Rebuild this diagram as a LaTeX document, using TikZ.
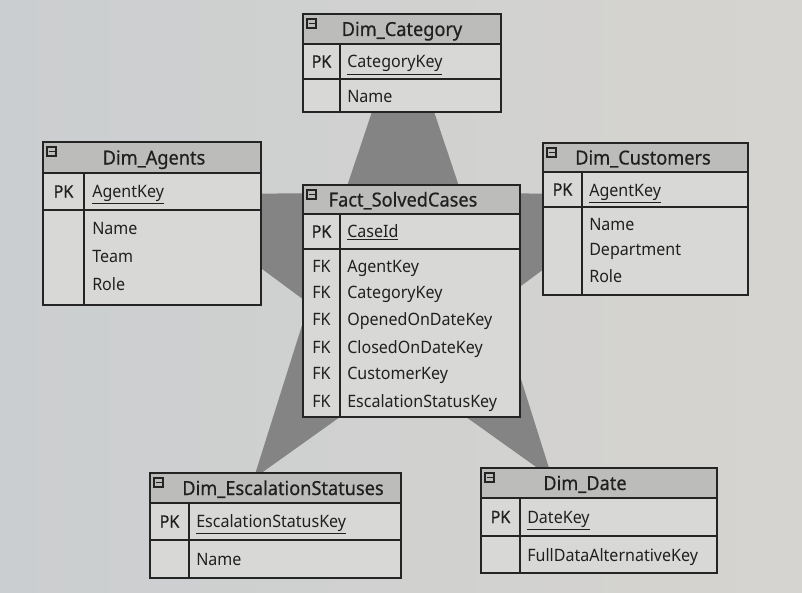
\documentclass[tikz,border=0pt]{standalone}
\usepackage{fontspec}
\setmainfont{Noto Sans}[FakeStretch=0.94]
\newfontfamily\semibf{Noto Sans}[FakeBold=0.6,FakeStretch=0.94]
\definecolor{paperl}{RGB}{203,206,208}
\definecolor{paperr}{RGB}{214,212,208}
\definecolor{starc}{RGB}{132,132,132}
\definecolor{hdrc}{RGB}{188,188,187}
\definecolor{bodyc}{RGB}{216,216,214}
\definecolor{linec}{RGB}{36,36,36}
\definecolor{txtc}{RGB}{32,32,32}
\tikzset{
  tline/.style={draw=linec, line width=1.1pt},
  ttl/.style={font=\semibf\fontsize{14.5}{16}\selectfont, text=txtc, inner sep=0pt, anchor=base},
  fld/.style={font=\fontsize{12.8}{15}\selectfont, text=txtc, anchor=base west, inner sep=0pt},
  keyl/.style={font=\semibf\fontsize{12.8}{15}\selectfont, text=txtc, inner sep=0pt, anchor=base},
  icon/.style={draw=linec, line width=0.8pt},
}
% #1 name, #2 L, #3 T, #4 R, #5 header bottom, #6 PK bottom, #7 B, #8 divider, #9 title x
\newcommand\ertable[9]{%
  \fill[bodyc] (#2,#3) rectangle (#4,#7);
  \fill[hdrc] (#2,#3) rectangle (#4,#5);
  \draw[tline] (#2,#3) rectangle (#4,#7);
  \draw[tline] (#2,#5) -- (#4,#5);
  \draw[tline] (#2,#6) -- (#4,#6);
  \draw[tline] (#8,#5) -- (#8,#7);
  \draw[icon] ({#2+4},{#3+5}) rectangle ({#2+13},{#3+14});
  \draw[icon] ({#2+5.5},{#3+9.5}) -- ({#2+11.5},{#3+9.5});
  \coordinate (#1-title) at (#9,{(#3+#5)/2+7});
  \node[keyl] (#1-pk) at ({(#2+#8)/2},{(#5+#6)/2+6}) {PK};
}
\begin{document}
\begin{tikzpicture}[x=0.75pt,y=-0.75pt]
\useasboundingbox (0,0) rectangle (802,592);
\shade[left color=paperl, right color=paperr] (0,0) rectangle (802,592);
% star
\fill[starc] ({403+254*cos(90)},{273-254*sin(90)})
  \foreach \k in {1,...,9} {
    -- ({403+(mod(\k,2)==1 ? 99 : 254)*cos(90+36*\k)},{273-(mod(\k,2)==1 ? 99 : 254)*sin(90+36*\k)})
  } -- cycle;

% Dim_Category
\ertable{cat}{303}{14}{501}{44}{79}{112}{340}{402}
\node[ttl] (cat-t) at (cat-title) {Dim\_Category};
\node[fld] (cat-k) at (347,68) {\underline{CategoryKey}};
\node[fld] (cat-n) at (347,102) {Name};

% Dim_Agents
\ertable{ag}{43}{142}{261}{173}{210}{305}{84}{154}
\node[ttl] (ag-t) at (ag-title) {Dim\_Agents};
\node[fld] (ag-k) at (92,197) {\underline{AgentKey}};
\node[fld] (ag-n) at (92,234) {Name};
\node[fld] (ag-m) at (92,262) {Team};
\node[fld] (ag-r) at (92,290) {Role};

% Dim_Customers
\ertable{cu}{543}{143}{748}{172}{207}{295}{582}{643}
\node[ttl] (cu-t) at (cu-title) {Dim\_Customers};
\node[fld] (cu-k) at (589,196) {\underline{AgentKey}};
\node[fld] (cu-n) at (589,230) {Name};
\node[fld] (cu-d) at (589,255) {Department};
\node[fld] (cu-r) at (589,282) {Role};

% Fact_SolvedCases
\ertable{fa}{303}{185}{520}{214}{249}{417}{340}{403}
\node[ttl] (fa-t) at (fa-title) {Fact\_SolvedCases};
\node[fld] (fa-k) at (347,237) {\underline{CaseId}};
\foreach \y/\t [count=\i] in {272/AgentKey,298/CategoryKey,325/OpenedOnDateKey,353/ClosedOnDateKey,379/CustomerKey,407/EscalationStatusKey}{
  \node[keyl, font=\fontsize{12.8}{15}\selectfont] (fa-fk\i) at (321.5,\y) {FK};
  \node[fld] (fa-f\i) at (347,\y) {\t};
}

% Dim_EscalationStatuses
\ertable{es}{150}{473}{401}{503}{540}{578}{189}{283}
\node[ttl] (es-t) at (es-title) {Dim\_EscalationStatuses};
\node[fld] (es-k) at (196,527) {\underline{EscalationStatusKey}};
\node[fld] (es-n) at (196,565) {Name};

% Dim_Date
\ertable{dt}{481}{468}{717}{498}{536}{573}{520}{585}
\node[ttl] (dt-t) at (dt-title) {Dim\_Date};
\node[fld] (dt-k) at (527,523) {\underline{DateKey}};
\node[fld] (dt-n) at (527,561) {FullDataAlternativeKey};
\end{tikzpicture}
\end{document}
